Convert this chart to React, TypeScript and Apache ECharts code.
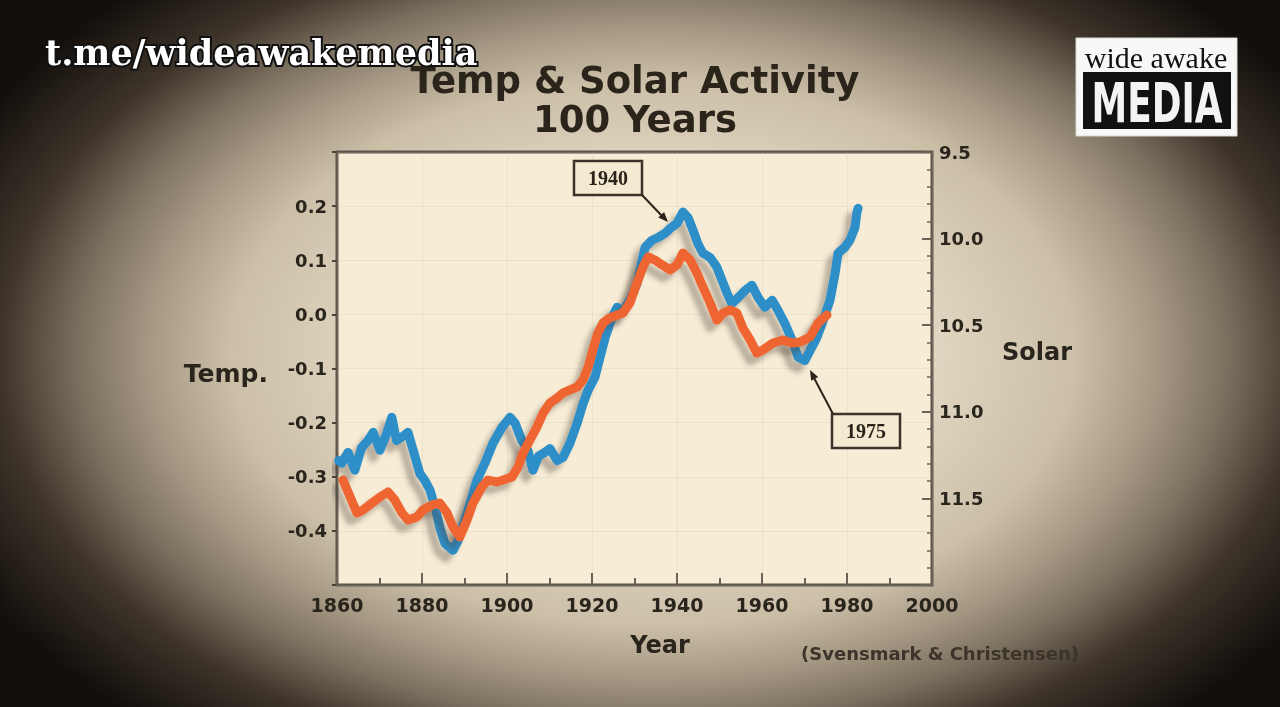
import React, { useEffect, useRef } from "react";
import * as echarts from "echarts";

const titleLines = ["Temp & Solar Activity", "100 Years"];
const xTicks = [1860, 1880, 1900, 1920, 1940, 1960, 1980, 2000];

const tempYears = [1860.4, 1861.1, 1862.6, 1864.2, 1865.8, 1867.3, 1868.5, 1870.1, 1871.7, 1872.9, 1874.0, 1875.2, 1876.7, 1878.4, 1879.5, 1880.7, 1881.9, 1883.1, 1884.2, 1885.4, 1887.3, 1888.5, 1890.6, 1892.9, 1894.8, 1896.7, 1898.8, 1900.7, 1901.9, 1903.5, 1904.9, 1906.1, 1907.4, 1908.5, 1910.1, 1911.8, 1913.2, 1914.8, 1916.5, 1917.9, 1919.1, 1920.7, 1921.9, 1923.1, 1924.7, 1925.9, 1927.1, 1928.9, 1930.6, 1931.8, 1932.5, 1934.1, 1935.5, 1937.2, 1938.4, 1940.0, 1941.4, 1942.6, 1943.8, 1944.9, 1946.1, 1947.8, 1949.4, 1950.6, 1951.8, 1952.9, 1954.4, 1956.0, 1957.6, 1959.1, 1960.7, 1962.4, 1963.8, 1965.4, 1967.1, 1968.5, 1970.1, 1971.3, 1972.9, 1974.4, 1976.0, 1977.2, 1977.9, 1979.5, 1980.7, 1981.9, 1982.3, 1982.6];
const tempValues = [-0.27, -0.275, -0.255, -0.288, -0.246, -0.233, -0.218, -0.251, -0.22, -0.19, -0.233, -0.227, -0.218, -0.264, -0.294, -0.307, -0.325, -0.357, -0.394, -0.423, -0.436, -0.418, -0.368, -0.307, -0.275, -0.238, -0.209, -0.19, -0.201, -0.233, -0.251, -0.288, -0.262, -0.257, -0.248, -0.27, -0.264, -0.238, -0.201, -0.165, -0.14, -0.116, -0.079, -0.043, -0.006, 0.013, 0.004, 0.026, 0.057, 0.1, 0.124, 0.137, 0.142, 0.15, 0.159, 0.168, 0.189, 0.179, 0.155, 0.131, 0.113, 0.105, 0.087, 0.063, 0.039, 0.02, 0.031, 0.044, 0.054, 0.031, 0.013, 0.026, 0.007, -0.017, -0.048, -0.079, -0.085, -0.067, -0.043, -0.011, 0.026, 0.076, 0.113, 0.124, 0.137, 0.161, 0.187, 0.196];

const solarYears = [1861.4, 1863.1, 1864.7, 1866.1, 1868.2, 1870.1, 1872.0, 1873.6, 1875.3, 1876.7, 1878.8, 1880.2, 1882.4, 1884.2, 1885.9, 1887.3, 1888.9, 1890.6, 1892.0, 1894.1, 1895.5, 1897.6, 1899.1, 1901.2, 1902.6, 1903.8, 1905.4, 1907.1, 1908.5, 1910.1, 1911.8, 1913.2, 1914.8, 1916.5, 1917.9, 1919.1, 1920.2, 1921.4, 1922.6, 1924.2, 1925.9, 1927.3, 1928.9, 1930.6, 1932.0, 1933.2, 1934.8, 1936.5, 1938.4, 1940.0, 1941.4, 1943.1, 1944.7, 1946.1, 1947.8, 1949.4, 1950.8, 1952.5, 1954.1, 1955.5, 1957.2, 1958.8, 1960.2, 1962.6, 1964.9, 1967.1, 1968.9, 1971.3, 1973.2, 1975.3];
const solarValues = [11.394, 11.492, 11.584, 11.567, 11.527, 11.492, 11.463, 11.509, 11.584, 11.625, 11.607, 11.567, 11.538, 11.527, 11.584, 11.665, 11.723, 11.625, 11.527, 11.434, 11.394, 11.405, 11.394, 11.376, 11.319, 11.238, 11.163, 11.085, 11.007, 10.949, 10.92, 10.891, 10.874, 10.857, 10.816, 10.741, 10.643, 10.545, 10.487, 10.458, 10.441, 10.43, 10.372, 10.256, 10.164, 10.106, 10.124, 10.152, 10.181, 10.152, 10.083, 10.124, 10.199, 10.279, 10.372, 10.47, 10.43, 10.412, 10.43, 10.516, 10.585, 10.661, 10.643, 10.603, 10.585, 10.603, 10.597, 10.568, 10.487, 10.441];

const FONT = "'DejaVu Sans'";
const INK = "#2a251c";

export default function App() {
  const ref = useRef<HTMLDivElement>(null);
  useEffect(() => {
    if (!ref.current) return;
    const chart = echarts.init(ref.current, undefined, { renderer: "svg" });
    const tempData = tempYears.map((y, i) => [y, tempValues[i]]);
    const solarData = solarYears.map((y, i) => [y, solarValues[i]]);
    const labelStyle = { color: INK, fontFamily: "DejaVu Sans", fontWeight: "bold" as const, fontSize: 18 };
    const lineShadow = { shadowColor: "rgba(70,60,50,0.35)", shadowBlur: 5, shadowOffsetX: -7, shadowOffsetY: 8 };
    chart.setOption({
      animation: false,
      backgroundColor: "transparent",
      grid: {
        left: 337, right: 348, top: 152, bottom: 122,
        show: true, backgroundColor: "#f7edd6", borderColor: "#5a544b", borderWidth: 3,
      },
      xAxis: {
        type: "value", min: 1860, max: 2000, interval: 20,
        axisLine: { show: false, onZero: false },
        axisTick: { show: true, inside: true, length: 12, lineStyle: { color: "#6a6257", width: 2 } },
        minorTick: { show: true, splitNumber: 2, length: 7, lineStyle: { color: "#6a6257", width: 2 } },
        splitLine: { show: true, lineStyle: { color: "rgba(200,185,160,0.22)", width: 1 } },
        axisLabel: { ...labelStyle, fontSize: 19, margin: 10, formatter: (v: number) => (xTicks.includes(v) ? String(v) : "") },
      },
      yAxis: [
        {
          type: "value", min: -0.5, max: 0.3, interval: 0.1,
          axisLine: { show: false, onZero: false },
          axisTick: { show: true, inside: false, length: 5, lineStyle: { color: "#4a443b", width: 2 } },
          splitLine: { show: true, lineStyle: { color: "rgba(200,185,160,0.22)", width: 1 } },
          axisLabel: {
            ...labelStyle, margin: 10,
            formatter: (v: number) => {
              if (v < -0.45 || v > 0.25) return "";
              if (Math.abs(v) < 1e-9) return "0.0";
              return v.toFixed(1);
            },
          },
        },
        {
          type: "value", min: 9.5, max: 12.0, interval: 0.5, inverse: true, position: "right",
          axisLine: { show: false, onZero: false },
          axisTick: { show: true, inside: true, length: 10, lineStyle: { color: "#6a6257", width: 2 } },
          minorTick: { show: true, splitNumber: 5, length: 5, lineStyle: { color: "#6a6257", width: 1.5 } },
          splitLine: { show: false },
          axisLabel: {
            ...labelStyle, margin: 7,
            formatter: (v: number) => (v > 11.9 ? "" : v.toFixed(1)),
          },
        },
      ],
      series: [
        {
          name: "Temp.", type: "line", yAxisIndex: 0, data: tempData, showSymbol: false,
          lineStyle: { color: "#2d8fc8", width: 9, cap: "round", join: "round", ...lineShadow },
          z: 2,
        },
        {
          name: "Solar", type: "line", yAxisIndex: 1, data: solarData, showSymbol: false,
          lineStyle: { color: "#ef6532", width: 9, cap: "round", join: "round", ...lineShadow },
          z: 3,
        },
      ],
      graphic: [
        { type: "text", x: 635, y: 80, style: { text: titleLines[0], fill: "#2a241b", font: `bold 37px ${FONT}`, align: "center", verticalAlign: "middle" }, z: 10 },
        { type: "text", x: 635, y: 119, style: { text: titleLines[1], fill: "#2a241b", font: `bold 37px ${FONT}`, align: "center", verticalAlign: "middle" }, z: 10 },
        { type: "text", x: 268, y: 373, style: { text: "Temp.", fill: INK, font: `bold 25px ${FONT}`, align: "right", verticalAlign: "middle" } },
        { type: "text", x: 1002, y: 352, style: { text: "Solar", fill: INK, font: `bold 24px ${FONT}`, align: "left", verticalAlign: "middle" } },
        { type: "text", x: 660, y: 645, style: { text: "Year", fill: INK, font: `bold 24px ${FONT}`, align: "center", verticalAlign: "middle" } },
        { type: "text", x: 940, y: 653, style: { text: "(Svensmark & Christensen)", fill: "#3a342a", font: `bold 18px ${FONT}`, align: "center", verticalAlign: "middle" } },
        // 1940 annotation
        { type: "rect", shape: { x: 574, y: 161, width: 68, height: 34 }, style: { fill: "#f4e9d1", stroke: "#3a342b", lineWidth: 2.5 }, z: 20 },
        { type: "text", x: 608, y: 178, style: { text: "1940", fill: "#2a241b", font: "bold 20px 'Liberation Serif'", align: "center", verticalAlign: "middle" }, z: 21 },
        { type: "line", shape: { x1: 642, y1: 195, x2: 663, y2: 217 }, style: { stroke: "#2a241b", lineWidth: 2 }, z: 20 },
        { type: "polygon", shape: { points: [[668, 222], [658.3, 217.4], [664.1, 212]] }, style: { fill: "#2a241b" }, z: 20 },
        // 1975 annotation
        { type: "rect", shape: { x: 832, y: 414, width: 68, height: 34 }, style: { fill: "#f4e9d1", stroke: "#3a342b", lineWidth: 2.5 }, z: 20 },
        { type: "text", x: 866, y: 431, style: { text: "1975", fill: "#2a241b", font: "bold 20px 'Liberation Serif'", align: "center", verticalAlign: "middle" }, z: 21 },
        { type: "line", shape: { x1: 833, y1: 414, x2: 813, y2: 376 }, style: { stroke: "#2a241b", lineWidth: 2 }, z: 20 },
        { type: "polygon", shape: { points: [[810, 370], [818.2, 376.9], [811.2, 380.7]] }, style: { fill: "#2a241b" }, z: 20 },
        // watermark
        {
          type: "text", x: 45, y: 52, z: 30,
          style: {
            text: "t.me/wideawakemedia", fill: "#ffffff", font: "bold 35px 'DejaVu Serif'",
            verticalAlign: "middle", stroke: "#111111", lineWidth: 4,
            shadowColor: "rgba(0,0,0,0.7)", shadowBlur: 3, shadowOffsetX: 2, shadowOffsetY: 2,
          },
        },
        // logo
        { type: "rect", shape: { x: 1076, y: 38, width: 161, height: 98 }, style: { fill: "#f8f8f6", stroke: "#d8d8d4", lineWidth: 1 }, z: 30 },
        { type: "rect", shape: { x: 1083, y: 72, width: 148, height: 57 }, style: { fill: "#111111" }, z: 31 },
        { type: "text", x: 1156, y: 57, style: { text: "wide awake", fill: "#111111", font: "30px 'Liberation Serif'", align: "center", verticalAlign: "middle" }, z: 32 },
        {
          type: "text", x: 1157, y: 102, scaleX: 0.64,
          style: { text: "MEDIA", fill: "#f4f4f2", font: "bold 56px 'DejaVu Sans'", align: "center", verticalAlign: "middle" }, z: 32,
        },
      ],
    });
    return () => chart.dispose();
  }, []);
  return (
    <div
      style={{
        position: "fixed", left: 0, top: 0, width: 1280, height: 707, overflow: "hidden",
        background:
          "radial-gradient(ellipse 768px 495px at 653px 353px, #ece3cf 0%, #e2d7c2 35%, #cbbfa8 55%, #a89b86 65%, #7a6e5e 75%, #3e342a 85%, #120e0b 100%)",
      }}
    >
      <div ref={ref} style={{ width: 1280, height: 707 }} />
    </div>
  );
}
